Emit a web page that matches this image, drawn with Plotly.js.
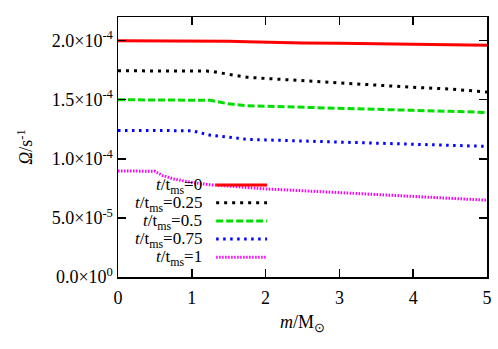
<!DOCTYPE html>
<html>
<head>
<meta charset="utf-8">
<script src="https://cdn.plot.ly/plotly-3.0.1.min.js"></script>
<style>
  body { margin: 0; background: #fff; }
  #plot { width: 498px; height: 349px; }
</style>
</head>
<body>
<div id="plot"></div>
<script>
// mass coordinate m/Msun
var mass = [0, 0.25, 0.5, 0.6, 0.75, 1, 1.25, 1.5, 1.75, 2, 2.5, 3, 3.5, 4, 4.5, 5];

// angular velocity in units of 1e-4 s^-1
var omega0    = [2.0, 2.0, 2.0, 2.0, 2.0, 2.0, 2.0, 1.995, 1.99, 1.985, 1.98, 1.977, 1.973, 1.97, 1.966, 1.96];
var omega025  = [1.745, 1.745, 1.745, 1.745, 1.745, 1.745, 1.742, 1.715, 1.69, 1.68, 1.66, 1.64, 1.625, 1.605, 1.59, 1.565];
var omega05   = [1.5, 1.5, 1.5, 1.5, 1.5, 1.5, 1.495, 1.465, 1.45, 1.445, 1.435, 1.425, 1.418, 1.41, 1.402, 1.392];
var omega075  = [1.24, 1.24, 1.24, 1.24, 1.24, 1.238, 1.2, 1.18, 1.165, 1.16, 1.15, 1.14, 1.13, 1.122, 1.115, 1.105];
var omega1    = [0.897, 0.897, 0.895, 0.86, 0.83, 0.80, 0.78, 0.77, 0.755, 0.745, 0.73, 0.715, 0.70, 0.685, 0.668, 0.65];

var labels = ["0", "0.25", "0.5", "0.75", "1"];
var colors = ["#ff0000", "#000000", "#00e000", "#0000ff", "#ff00ff"];
var dashes = ["solid", "3px,5px", "7px,3px", "2.5px,4.5px", "1.5px,1.5px"];
var series = [omega0, omega025, omega05, omega075, omega1];

var yTicks = [0, 5e-5, 1e-4, 1.5e-4, 2e-4];
var yTickText = ["0.0×10<sup>0</sup>", "5.0×10<sup>-5</sup>", "1.0×10<sup>-4</sup>",
                 "1.5×10<sup>-4</sup>", "2.0×10<sup>-4</sup>"];

var serif = "Liberation Serif, Times New Roman, serif";

var traces = series.map(function (s, i) {
  return {
    x: mass,
    y: s.map(function (v) { return v * 1e-4; }),
    mode: "lines",
    line: { color: colors[i], width: 3, dash: dashes[i] },
    showlegend: false
  };
});

// gnuplot-style key: text on the left, sample on the right
var keyY = [0.354, 0.286, 0.215, 0.146, 0.076];
var annotations = [];
var shapes = [];
labels.forEach(function (lab, i) {
  annotations.push({
    xref: "paper", yref: "paper", x: 0.232, y: keyY[i] - 0.004,
    xanchor: "right", yanchor: "middle", showarrow: false,
    text: "<i>t</i>/t<sub>ms</sub>=" + lab,
    font: { family: serif, size: 17, color: "#000" }
  });
  shapes.push({
    type: "line", xref: "paper", yref: "paper",
    x0: 0.266, x1: 0.404, y0: keyY[i], y1: keyY[i],
    line: { color: colors[i], width: 3, dash: dashes[i] }
  });
});

var layout = {
  width: 498, height: 349,
  margin: { l: 118, r: 11, t: 17, b: 72 },
  paper_bgcolor: "#fff", plot_bgcolor: "#fff",
  font: { family: serif, size: 18, color: "#000" },
  xaxis: {
    range: [0, 5], dtick: 1, tick0: 0,
    showgrid: false, zeroline: false,
    showline: true, linecolor: "#000", linewidth: 1.5, mirror: "ticks",
    ticks: "inside", ticklen: 8, tickcolor: "#000", tickwidth: 1.5,
    ticklabelstandoff: 4,
    tickfont: { family: serif, size: 18 },
    title: { text: "<i>m</i>/M<sub>⊙</sub>", standoff: 8, font: { family: serif, size: 18 } }
  },
  yaxis: {
    range: [0, 2.2e-4],
    tickmode: "array", tickvals: yTicks, ticktext: yTickText,
    showgrid: false, zeroline: false,
    showline: true, linecolor: "#000", linewidth: 1.5, mirror: "ticks",
    ticks: "inside", ticklen: 8, tickcolor: "#000", tickwidth: 1.5,
    tickfont: { family: serif, size: 18 },
    title: { text: "<i>Ω</i>/s<sup>-1</sup>", standoff: 14, font: { family: serif, size: 18 } }
  },
  annotations: annotations,
  shapes: shapes
};

Plotly.newPlot("plot", traces, layout, { staticPlot: true });
</script>
</body>
</html>
